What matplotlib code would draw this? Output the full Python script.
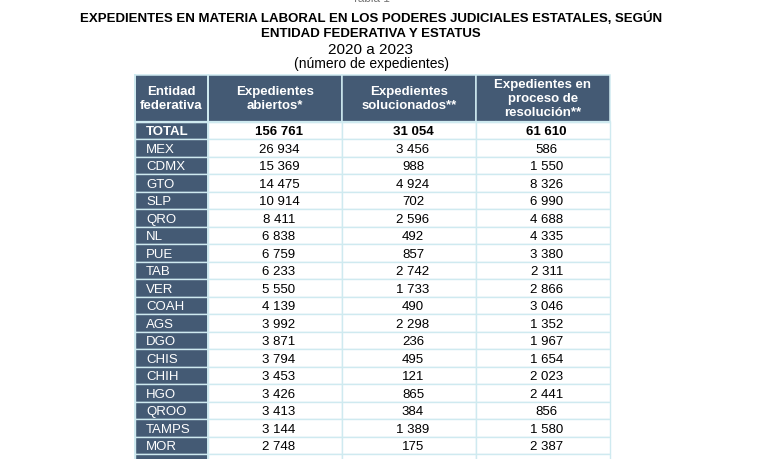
import matplotlib
matplotlib.use("Agg")
import matplotlib.pyplot as plt
from matplotlib.patches import Rectangle

plt.rcParams['font.family'] = ['Liberation Sans', 'DejaVu Sans']

# ---- data ----
title_lines = ["EXPEDIENTES EN MATERIA LABORAL EN LOS PODERES JUDICIALES ESTATALES, SEGÚN",
               "ENTIDAD FEDERATIVA Y ESTATUS"]
subtitle = "2020 a 2023"
unit_note = "(número de expedientes)"
table_label = "Tabla 1"
headers = ["Entidad\nfederativa", "Expedientes\nabiertos*", "Expedientes\nsolucionados**",
           "Expedientes en\nproceso de\nresolución**"]
entities = ["TOTAL", "MEX", "CDMX", "GTO", "SLP", "QRO", "NL", "PUE", "TAB", "VER", "COAH",
            "AGS", "DGO", "CHIS", "CHIH", "HGO", "QROO", "TAMPS", "MOR"]
abiertos = [156761, 26934, 15369, 14475, 10914, 8411, 6838, 6759, 6233, 5550, 4139,
            3992, 3871, 3794, 3453, 3426, 3413, 3144, 2748]
solucionados = [31054, 3456, 988, 4924, 702, 2596, 492, 857, 2742, 1733, 490,
                2298, 236, 495, 121, 865, 384, 1389, 175]
en_proceso = [61610, 586, 1550, 8326, 6990, 4688, 4335, 3380, 2311, 2866, 3046,
              1352, 1967, 1654, 2023, 2441, 856, 1580, 2387]

# ---- layout / style ----
W, H = 768, 459
DARK = "#445a74"
LINE = "#cfeaf0"
col_edges = [134.5, 207.8, 342.0, 476.0, 609.5]
header_top, header_bot = 75.0, 122.0
row_h = 17.48
fs_pt = 9.5
px = fs_pt * 100 / 72.0
cap = 0.716 * px


def fmt(v):
    return f"{v:,}".replace(",", " ")


fig = plt.figure(figsize=(W / 100, H / 100), dpi=100)
ax = fig.add_axes([0, 0, 1, 1])
ax.set_xlim(0, W)
ax.set_ylim(H, 0)
ax.axis("off")

# titles
cx = 371
ax.text(cx, -1.5, table_label, ha="center", va="center", fontsize=8.5, color="#777777")
ax.text(cx, 21.7, title_lines[0], ha="center", va="baseline", fontsize=fs_pt, fontweight="bold")
ax.text(cx, 37.0, title_lines[1], ha="center", va="baseline", fontsize=fs_pt, fontweight="bold")
ax.text(cx, 54.4, subtitle, ha="center", va="baseline", fontsize=11)
ax.text(cx, 68.4, unit_note, ha="center", va="baseline", fontsize=10)

# header
for j, htxt in enumerate(headers):
    x0, x1 = col_edges[j], col_edges[j + 1]
    ax.add_patch(Rectangle((x0, header_top), x1 - x0, header_bot - header_top,
                           facecolor=DARK, edgecolor=LINE, linewidth=1.1, zorder=1))
    lines = htxt.split("\n")
    n = len(lines)
    mid = (header_top + header_bot) / 2 - 1 + cap / 2
    for k, ln in enumerate(lines):
        y = mid + (k - (n - 1) / 2) * 14.0
        ax.text((x0 + x1) / 2, y, ln, ha="center", va="baseline", fontsize=fs_pt,
                fontweight="bold", color="white", zorder=3)

# body rows (+1 partially visible row at the bottom)
cols = [abiertos, solucionados, en_proceso]
n_rows = len(entities) + 1
for i in range(n_rows):
    top = header_bot + i * row_h
    for j in range(4):
        x0, x1 = col_edges[j], col_edges[j + 1]
        ax.add_patch(Rectangle((x0, top), x1 - x0, row_h,
                               facecolor=DARK if j == 0 else "white",
                               edgecolor=LINE, linewidth=1.0, zorder=1))
    if i >= len(entities):
        continue
    base = top + row_h / 2 + cap / 2
    weight = "bold" if i == 0 else "normal"
    ax.text(col_edges[0] + 11.5, base, entities[i], ha="left", va="baseline",
            fontsize=fs_pt, color="white", fontweight=weight, zorder=3)
    for j, series in enumerate(cols):
        x0, x1 = col_edges[j + 1], col_edges[j + 2]
        ax.text((x0 + x1) / 2 + 4, base, fmt(series[i]), ha="center", va="baseline",
                fontsize=fs_pt, color="black", fontweight=weight, zorder=3)

# thicker separators
ax.plot([col_edges[0], col_edges[-1]], [header_bot, header_bot], color=LINE, lw=1.6, zorder=2)
ax.plot([col_edges[1], col_edges[1]], [header_top, H], color=LINE, lw=1.4, zorder=2)
ax.plot([col_edges[0], col_edges[0]], [header_top, H], color=LINE, lw=1.4, zorder=2)

fig.savefig("out.png", dpi=100)
